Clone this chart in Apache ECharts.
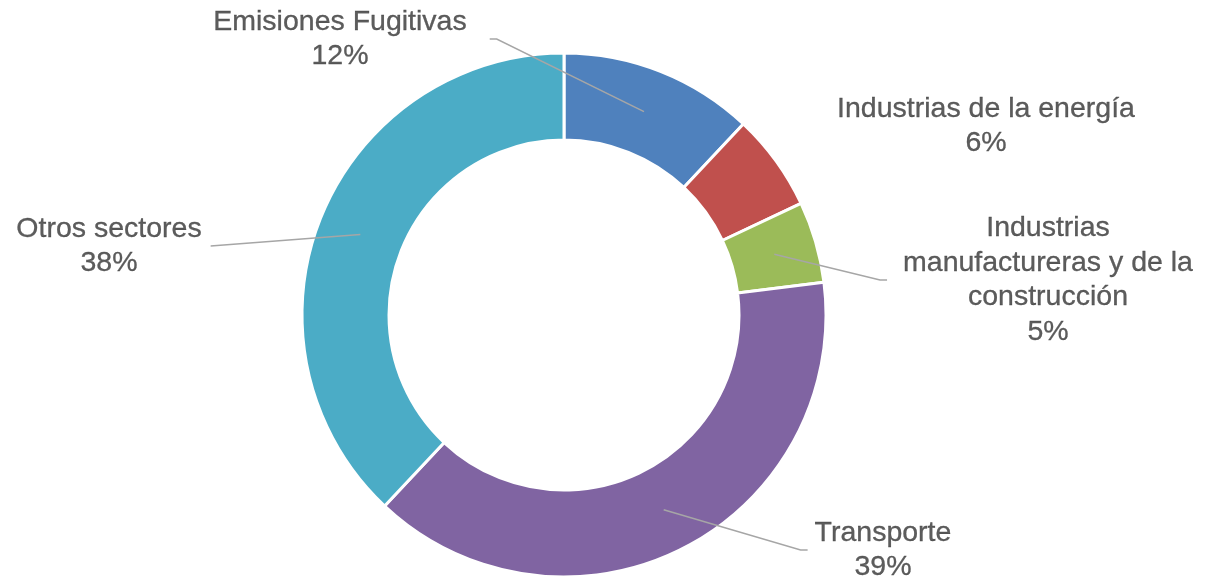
<!DOCTYPE html>
<html>
<head>
<meta charset="utf-8">
<script src="https://cdn.jsdelivr.net/npm/echarts@6/dist/echarts.min.js"></script>
<style>html,body{margin:0;padding:0;background:#fff}#c{width:1212px;height:579px}</style>
</head>
<body>
<div id="c"></div>
<script>
// ---- data ----
const categories = ['Emisiones Fugitivas', 'Industrias de la energía', 'Industrias manufactureras y de la construcción', 'Transporte', 'Otros sectores'];
const labelTexts = ['Emisiones Fugitivas', 'Industrias de la energía', 'Industrias\nmanufactureras y de la\nconstrucción', 'Transporte', 'Otros sectores'];
const values = [12, 6, 5, 39, 38];

// ---- styles / layout ----
const colors = ['#4F81BD', '#C0504D', '#9BBB59', '#8064A2', '#4BACC6'];
const CENTER = [564, 315];
const OUTER = 262, INNER = 175;
const LABEL_LAYOUT = [
  { x: 340, y: 39, pad: 23, len: 7, line: true },
  { x: 986, y: 126, pad: 0, len: 0, line: false },
  { x: 1048, y: 280, pad: 16, len: 7, line: true },
  { x: 883, y: 550, pad: 7, len: 7, line: true },
  { x: 109, y: 246, pad: 9, len: 0, line: true }
];

const total = values.reduce((a, b) => a + b, 0);
const mids = [];
let cum = 0;
values.forEach(v => { mids.push(cum + v / 2); cum += v; });

const chart = echarts.init(document.getElementById('c'), null, { renderer: 'canvas' });
chart.setOption({
  backgroundColor: '#fff',
  animation: false,
  polar: { center: CENTER, radius: OUTER },
  angleAxis: {
    type: 'value', min: 0, max: total, startAngle: 90, clockwise: true, show: false,
    axisLine: { show: false }, axisTick: { show: false }, axisLabel: { show: false }, splitLine: { show: false }
  },
  radiusAxis: {
    type: 'value', min: 0, max: OUTER, show: false,
    axisLine: { show: false }, axisTick: { show: false }, axisLabel: { show: false }, splitLine: { show: false }
  },
  series: [
    {
      type: 'pie',
      center: CENTER,
      radius: [INNER, OUTER],
      startAngle: 90,
      clockwise: true,
      silent: true,
      avoidLabelOverlap: false,
      label: { show: false },
      labelLine: { show: false },
      itemStyle: { borderColor: '#ffffff', borderWidth: 3 },
      data: categories.map((c, i) => ({ name: c, value: values[i], itemStyle: { color: colors[i] } }))
    },
    {
      type: 'scatter',
      coordinateSystem: 'polar',
      silent: true,
      symbolSize: 1,
      itemStyle: { color: 'rgba(0,0,0,0)' },
      z: 5,
      label: {
        show: true,
        color: '#333333',
        textBorderColor: '#333333',
        textBorderWidth: 0.3,
        fontFamily: 'Liberation Sans, Arial, sans-serif',
        fontSize: 28.5,
        lineHeight: 34.5,
        backgroundColor: 'rgba(0,0,0,0)',
        formatter: p => labelTexts[p.dataIndex] + '\n' + Math.round(values[p.dataIndex] / total * 100) + '%'
      },
      labelLine: { show: true, lineStyle: { color: '#A6A6A6', width: 1.5 } },
      labelLayout: p => {
        const l = LABEL_LAYOUT[p.dataIndex];
        return { x: l.x, y: l.y, align: 'center', verticalAlign: 'middle' };
      },
      data: mids.map((m, i) => ({
        value: [(INNER + OUTER) / 2, m],
        label: { padding: [0, LABEL_LAYOUT[i].pad], align: 'center' },
        labelLine: { show: LABEL_LAYOUT[i].line, length2: LABEL_LAYOUT[i].len }
      }))
    }
  ]
});
</script>
</body>
</html>
